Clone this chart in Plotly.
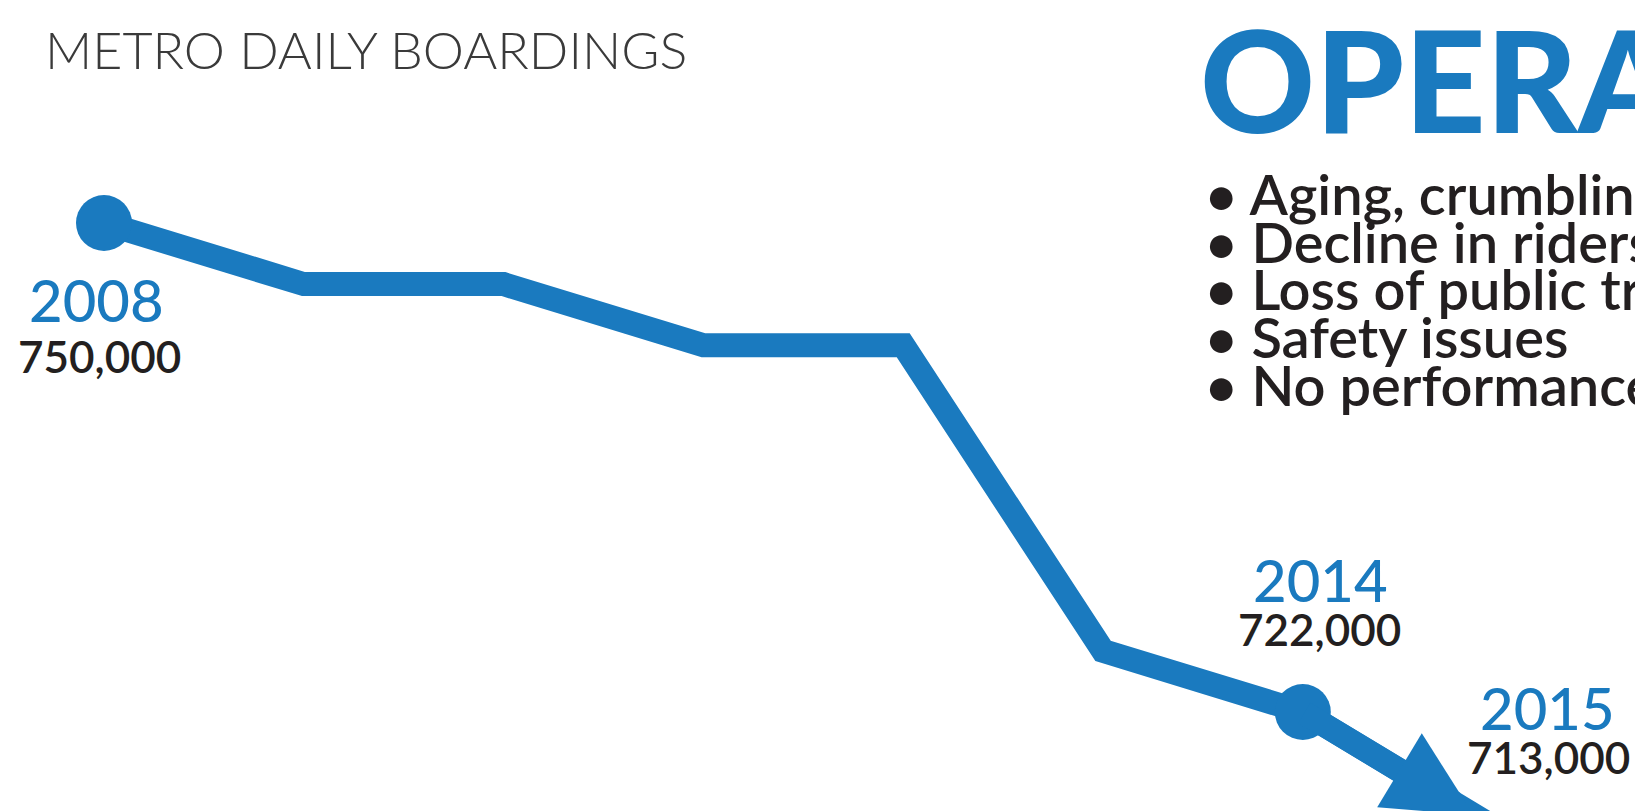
import plotly.graph_objects as go

# ---- data ----
years = [2008, 2009, 2010, 2011, 2012, 2013, 2014, 2015]
boardings = [750000, 746500, 746500, 743000, 743000, 725500, 722000, 715100]
marker_sizes = [56, 0, 0, 0, 0, 0, 56, 0]

label_years = [2008, 2014, 2015]
label_year_text = ["2008", "2014", "2015"]
label_value_text = ["750,000", "722,000", "713,000"]

title_text = "METRO DAILY BOARDINGS"
heading_text = "OPERATIONAL ISSUES"
bullets = [
    "Aging, crumbling infrastructure",
    "Decline in ridership",
    "Loss of public trust",
    "Safety issues",
    "No performance measures",
]

BLUE = "#1a7abf"
DARK = "#231f20"
W, H = 1635, 811

fig = go.Figure()
fig.add_trace(go.Scatter(
    x=years, y=boardings, mode="lines+markers",
    line=dict(color=BLUE, width=24),
    marker=dict(size=marker_sizes, color=BLUE, opacity=1, line=dict(width=0)),
    hoverinfo="skip", showlegend=False,
))

# arrow head at the end of the line
fig.add_annotation(
    x=years[-1], y=boardings[-1], ax=years[-2], ay=boardings[-2],
    xref="x", yref="y", axref="x", ayref="y",
    text="", showarrow=True, arrowhead=2, arrowsize=0.72,
    arrowwidth=24, arrowcolor=BLUE, standoff=34,
)

# year / value labels: x in data units plus pixel shift, y as pixel centres from top
year_pos = {2008: (-8, 299), 2014: (18, 579), 2015: (45, 707)}
value_pos = {2008: (-5, 356), 2014: (17, 629), 2015: (46, 757)}
for yr, yt, vt in zip(label_years, label_year_text, label_value_text):
    dx, ypx = year_pos[yr]
    fig.add_annotation(x=yr, y=1 - ypx / H, xref="x", yref="paper", text=yt, showarrow=False,
                       xshift=dx, xanchor="center", yanchor="middle",
                       font=dict(family="Lato", size=58, color=BLUE, weight=500))
    dx, ypx = value_pos[yr]
    fig.add_annotation(x=yr, y=1 - ypx / H, xref="x", yref="paper", text=vt, showarrow=False,
                       xshift=dx, xanchor="center", yanchor="middle",
                       font=dict(family="Lato", size=44, color=DARK, weight=600))

# title
fig.add_annotation(x=43 / W, y=1 - 49 / H, xref="paper", yref="paper",
                   text=title_text, showarrow=False, xanchor="left", yanchor="middle",
                   font=dict(family="Lato", size=52, color="#3a3a3a", weight=300))

# heading (runs off the right edge)
fig.add_annotation(x=1198 / W, y=1 - 78 / H, xref="paper", yref="paper",
                   text=heading_text, showarrow=False, xanchor="left", yanchor="middle",
                   font=dict(family="Lato", size=142, color=BLUE, weight=900))

# bullet list
for i, b in enumerate(bullets):
    yc = 194 + i * 47.5
    fig.add_annotation(x=1203 / W, y=1 - yc / H, xref="paper", yref="paper",
                       text="\u2022 " + b, showarrow=False, xanchor="left", yanchor="middle",
                       font=dict(family="Lato", size=56, color=DARK, weight=600))

px_per_year = 199.8
x0 = 2008 - 104 / px_per_year
x1 = x0 + W / px_per_year
y_top, y_bot = 762769, 716331

fig.update_layout(
    width=W, height=H, margin=dict(l=0, r=0, t=0, b=0),
    paper_bgcolor="white", plot_bgcolor="white", showlegend=False,
    xaxis=dict(range=[x0, x1], visible=False, fixedrange=True),
    yaxis=dict(range=[y_bot, y_top], visible=False, fixedrange=True),
)

fig.write_html("out.html", config={"displayModeBar": False},
               post_script="document.body.style.margin='0';")
